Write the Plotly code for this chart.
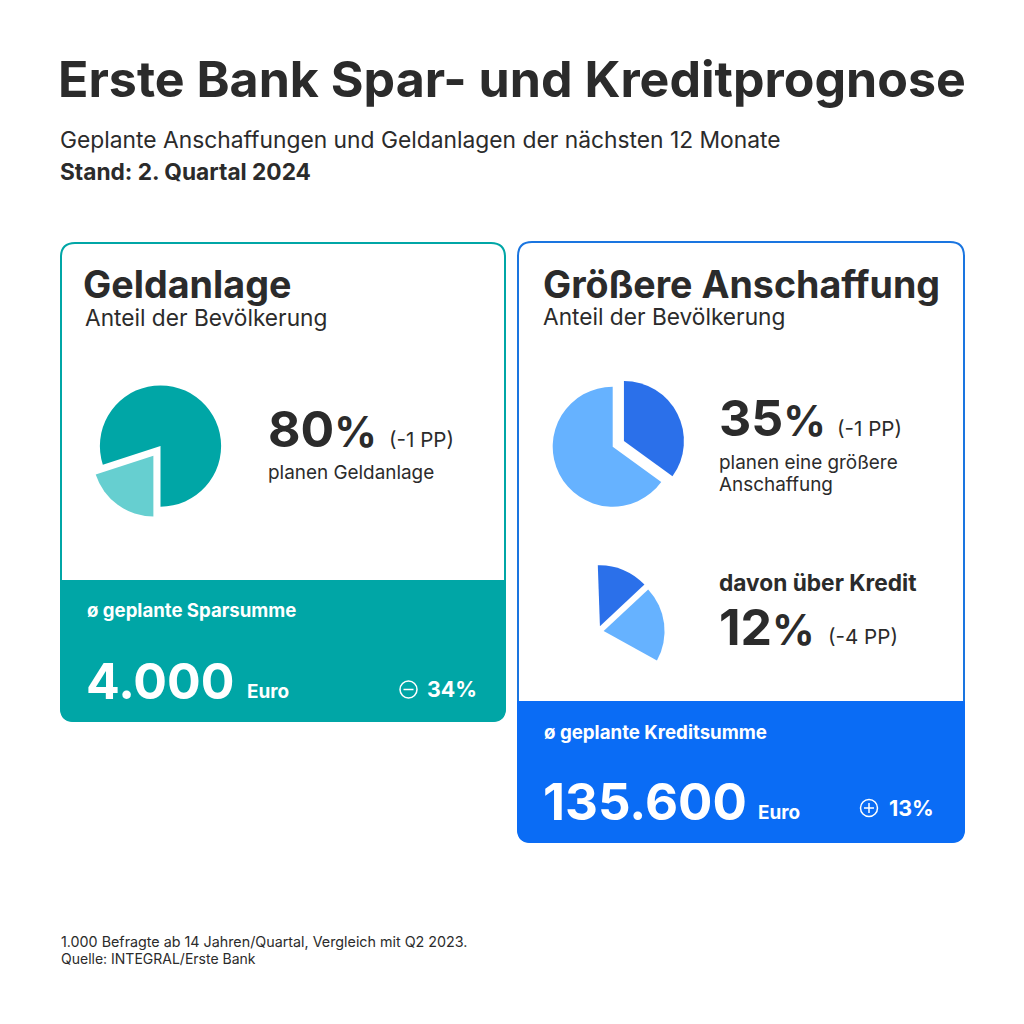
import plotly.graph_objects as go

# Values
geldanlage_labels = ["Keine Geldanlage", "Geldanlage"]
geldanlage_values = [20, 80]
anschaffung_labels = ["Größere Anschaffung", "Keine Anschaffung"]
anschaffung_values = [35, 65]
kredit_labels = ["Über Kredit", "Ohne Kredit", "Rest"]
kredit_values = [13.6, 20, 66.4]

TEAL = "#00a6a6"
TEAL_LIGHT = "#66cfd0"
BLUE = "#0a6cf5"
BLUE_DARK = "#2b70ea"
BLUE_LIGHT = "#66b2ff"
INK = "#2b2b2b"
FONT = "Inter"
W = 1024


def dom(cx, cy, size):
    # pie domain from pixel centre and size
    return dict(x=[(cx - size / 2) / W, (cx + size / 2) / W],
                y=[1 - (cy + size / 2) / W, 1 - (cy - size / 2) / W])


def card_path(x0, y0, x1, y1, r, top=True, bottom=True):
    rt = r if top else 0
    rb = r if bottom else 0
    return (f"M {x0 + rt} {y0} L {x1 - rt} {y0} Q {x1} {y0} {x1} {y0 + rt} "
            f"L {x1} {y1 - rb} Q {x1} {y1} {x1 - rb} {y1} "
            f"L {x0 + rb} {y1} Q {x0} {y1} {x0} {y1 - rb} "
            f"L {x0} {y0 + rt} Q {x0} {y0} {x0 + rt} {y0} Z")


fig = go.Figure()

fig.add_trace(go.Pie(labels=geldanlage_labels, values=geldanlage_values, sort=False,
                     direction="clockwise", rotation=180, pull=[0.2, 0],
                     marker=dict(colors=[TEAL_LIGHT, TEAL], line=dict(width=0)),
                     textinfo="none", domain=dom(160.5, 446, 145.5)))
fig.add_trace(go.Pie(labels=anschaffung_labels, values=anschaffung_values, sort=False,
                     direction="clockwise", rotation=0, pull=[0.21, 0],
                     marker=dict(colors=[BLUE_DARK, BLUE_LIGHT], line=dict(width=0)),
                     textinfo="none", domain=dom(612.7, 446.7, 145.2)))
fig.add_trace(go.Pie(labels=kredit_labels, values=kredit_values, sort=False,
                     direction="clockwise", rotation=-2, pull=[0.1, 0.1, 0],
                     marker=dict(colors=[BLUE_DARK, BLUE_LIGHT, "rgba(0,0,0,0)"], line=dict(width=0)),
                     textinfo="none", domain=dom(597.6, 631.8, 134)))

shapes = [
    # left card
    dict(type="path", path=card_path(61, 243, 505, 721, 14), line=dict(color=TEAL, width=2), fillcolor="white"),
    dict(type="path", path=card_path(60, 580, 506, 722, 14, top=False), line=dict(width=0), fillcolor=TEAL),
    # right card
    dict(type="path", path=card_path(518, 242, 964, 842, 14), line=dict(color="#1a75e0", width=2), fillcolor="white"),
    dict(type="path", path=card_path(517, 701, 965, 843, 14, top=False), line=dict(width=0), fillcolor=BLUE),
    # minus icon
    dict(type="circle", x0=400, y0=681, x1=417, y1=698, line=dict(color="white", width=1.5)),
    dict(type="line", x0=403.5, y0=689.5, x1=413.5, y1=689.5, line=dict(color="white", width=1.5)),
    # plus icon
    dict(type="circle", x0=860.5, y0=799.5, x1=877.5, y1=816.5, line=dict(color="white", width=1.5)),
    dict(type="line", x0=864, y0=808, x1=874, y1=808, line=dict(color="white", width=1.5)),
    dict(type="line", x0=869, y0=803, x1=869, y1=813, line=dict(color="white", width=1.5)),
]
for s in shapes:
    s.update(xref="x", yref="y", layer="below")

fig.update_layout(
    width=W, height=W, margin=dict(l=0, r=0, t=0, b=0, pad=0),
    paper_bgcolor="white", plot_bgcolor="white", showlegend=False,
    xaxis=dict(range=[0, W], visible=False, fixedrange=True),
    yaxis=dict(range=[W, 0], visible=False, fixedrange=True),
    shapes=shapes, font=dict(family=FONT, color=INK),
)


def label(x, y, text, size, weight=400, color=INK, anchor="left"):
    fig.add_annotation(x=x, y=y - 0.7, xref="x", yref="y", text=text, showarrow=False,
                       xanchor=anchor, yanchor="middle", align="left", borderpad=0,
                       font=dict(family=FONT, size=size, weight=weight, color=color))


# big percent figures: narrower percent sign as in the original
PCT = "<span style='font-size:42px'>%</span>"

label(57, 79, "Erste Bank Spar- und Kreditprognose", 50.1, 700)
label(59, 140, "Geplante Anschaffungen und Geldanlagen der nächsten 12 Monate", 22.8, 400)
label(59, 172, "Stand: 2. Quartal 2024", 22.7, 700)

label(82, 285, "Geldanlage", 37.7, 700)
label(83.5, 318, "Anteil der Bevölkerung", 22.7)
label(266.5, 430, "80" + PCT, 50, 700)
label(387.5, 440, "(-1 PP)", 20.6)
label(267, 473, "planen Geldanlage", 18.9)
label(86, 611, "ø geplante Sparsumme", 18.6, 700, "white")
label(84.5, 682, "4.000", 50, 700, "white")
label(246, 692, "Euro", 18.9, 700, "white")
label(426, 690, "34%", 21.4, 700, "white")

label(541.5, 285, "Größere Anschaffung", 37.6, 700)
label(541.5, 317, "Anteil der Bevölkerung", 22.7)
label(717.5, 419, "35" + PCT, 50, 700)
label(836, 429, "(-1 PP)", 20.6)
label(718, 463, "planen eine größere", 18.9)
label(718, 485, "Anschaffung", 18.9)
label(718, 583, "davon über Kredit", 22.7, 700)
label(718, 628, "12" + PCT, 50, 700)
label(827, 637, "(-4 PP)", 20.6)
label(543, 733, "ø geplante Kreditsumme", 18.7, 700, "white")
label(542, 802, "135.600", 51, 700, "white")
label(757, 813, "Euro", 18.9, 700, "white")
label(888, 809, "13%", 21.4, 700, "white")

label(60, 943, "1.000 Befragte ab 14 Jahren/Quartal, Vergleich mit Q2 2023.", 14.3)
label(60, 959, "Quelle: INTEGRAL/Erste Bank", 14)

fig.write_html("out.html", config={"displayModeBar": False},
               post_script="document.body.style.margin='0';document.body.style.overflow='hidden';")
